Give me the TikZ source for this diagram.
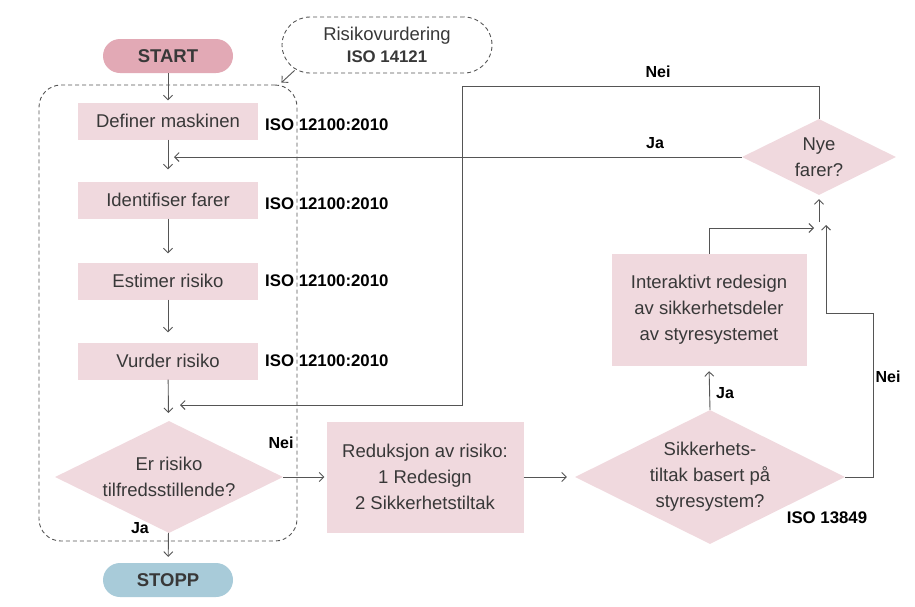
\documentclass[tikz,border=0pt]{standalone}
\usepackage{fontspec}
\setmainfont{Liberation Sans}
\usepackage{tikz}
\usetikzlibrary{shapes.geometric}
\usetikzlibrary{arrows.meta, positioning}
\usepackage{xcolor}
\definecolor{boxpink}{HTML}{F0D9DE}
\definecolor{startpink}{HTML}{E2A9B5}
\definecolor{stopblue}{HTML}{A8CBD9}
\definecolor{textgray}{HTML}{383838}
\definecolor{linegray}{HTML}{555555}

\begin{document}
\begin{tikzpicture}[x=1pt, y=-1pt,
    stepbox/.style={rectangle, fill=boxpink, text=textgray, align=center,
        font=\fontsize{18.5}{26}\selectfont, inner sep=0pt},
    decision/.style={diamond, aspect=2, fill=boxpink, text=textgray, align=center,
        font=\fontsize{18.5}{26}\selectfont, inner sep=0pt},
    terminal/.style={rectangle, rounded corners=17pt, minimum width=130pt,
        minimum height=34pt, text=textgray, font=\bfseries\fontsize{18.5}{22}\selectfont},
    isolabel/.style={anchor=west, inner sep=0pt, text=black,
        font=\bfseries\fontsize{16.8}{20}\selectfont},
    answer/.style={inner sep=0pt, text=black, font=\bfseries\fontsize{16}{20}\selectfont},
    flow/.style={draw=linegray, line width=0.9pt,
        -{Straight Barb[length=4.5pt,width=9pt]}},
    dashline/.style={draw=linegray, line width=0.9pt, dash pattern=on 4pt off 3pt}]

    \useasboundingbox (0,0) rectangle (915,606);

    % terminals
    \node[terminal, fill=startpink] (start) at (168,56) {START};
    \node[terminal, fill=stopblue] (stop) at (168,580) {STOPP};

    % risk assessment frame
    \node[dashline, rounded corners=28pt, minimum width=210pt, minimum height=56pt,
        align=center, text=textgray, font=\fontsize{18.5}{22}\selectfont] (risk) at (387,45)
        {Risikovurdering\\\textbf{\fontsize{16.8}{20}\selectfont ISO 14121}};
    \node[dashline, rounded corners=22pt, minimum width=258pt, minimum height=456pt] (frame) at (168,313) {};

    % steps
    \node[stepbox, minimum width=180pt, minimum height=37pt] (define) at (168,121) {Definer maskinen};
    \node[stepbox, minimum width=180pt, minimum height=37pt] (ident) at (168,200) {Identifiser farer};
    \node[stepbox, minimum width=180pt, minimum height=37pt] (estim) at (168,281) {Estimer risiko};
    \node[stepbox, minimum width=180pt, minimum height=37pt] (vurder) at (168,361) {Vurder risiko};

    \node[isolabel] (iso1) at (265,125) {ISO 12100:2010};
    \node[isolabel] (iso2) at (265,204) {ISO 12100:2010};
    \node[isolabel] (iso3) at (265,281) {ISO 12100:2010};
    \node[isolabel] (iso4) at (265,361) {ISO 12100:2010};

    \node[decision, minimum width=228pt, minimum height=112pt] (er) at (169,477)
        {Er risiko\\tilfredsstillende?};
    \node[stepbox, minimum width=197pt, minimum height=111pt] (reduk) at (425,477)
        {Reduksjon av risiko:\\1 Redesign\\2 Sikkerhetstiltak};
    \node[decision, minimum width=270pt, minimum height=134pt] (sik) at (710,477)
        {Sikkerhets-\\tiltak basert på\\styresystem?};
    \node[stepbox, minimum width=195pt, minimum height=112pt] (inter) at (709,310)
        {Interaktivt redesign\\av sikkerhetsdeler\\av styresystemet};
    \node[decision, minimum width=154pt, minimum height=76pt] (nye) at (819,157)
        {Nye\\farer?};
    \node[isolabel, anchor=center] (iso5) at (827,518) {ISO 13849};

    % answers
    \node[answer] (neiA) at (281,443) {Nei};
    \node[answer] (jaA) at (140,528) {Ja};
    \node[answer] (jaB) at (725,393) {Ja};
    \node[answer] (neiB) at (888,377) {Nei};
    \node[answer] (jaC) at (655,143) {Ja};
    \node[answer] (neiC) at (658,72) {Nei};

    % connection points
    \coordinate (jatip) at (174,157);
    \coordinate (neitop) at (462,86);
    \coordinate (neitip) at (180,405);
    \coordinate (joinL) at (814,228);
    \coordinate (joinR) at (826,225);
    \coordinate (joinup) at (819,222);
    \coordinate (bend) at (873,313);

    % connectors
    \draw[flow, shorten >=2pt] (start) -- (define);
    \draw[flow, shorten >=12pt] (define) -- (ident);
    \draw[flow, shorten >=9pt] (ident) -- (estim);
    \draw[flow, shorten >=10pt] (estim) -- (vurder);
    \draw[flow, shorten >=8pt] (vurder) -- (er);
    \draw[flow, shorten >=6pt] (er) -- (stop);
    \draw[flow, shorten >=2pt] (er.east) -- (reduk.west);
    \draw[flow, shorten >=8pt] (reduk.east) -- (sik.west);
    \draw[flow, shorten >=5pt] (sik.north) -- (inter.south);
    \draw[flow] (inter.north) |- (joinL);
    \draw[flow] (sik.east) -| (bend) -| (joinR);
    \draw[flow, shorten >=4pt] (joinup) -- (nye.south);
    \draw[flow] (nye.west) -- (jatip);
    \draw[flow] (nye.north) |- (neitop) -- (neitop |- neitip) -- (neitip);
    \draw[draw=linegray, line width=0.9pt, -{Straight Barb[length=4.5pt,width=9pt]}]
        ([xshift=13pt,yshift=3pt]risk.south west) -- ([xshift=-16pt,yshift=2pt]frame.north east);

\end{tikzpicture}
\end{document}
